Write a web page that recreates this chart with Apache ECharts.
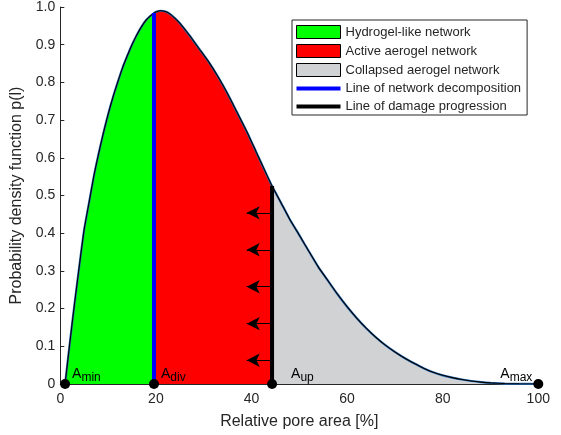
<!DOCTYPE html>
<html><head><meta charset="utf-8">
<script src="https://cdn.jsdelivr.net/npm/echarts@6/dist/echarts.min.js"></script>
<style>html,body{margin:0;padding:0;background:#fff}#c{width:561px;height:435px}</style>
</head><body><div id="c"></div>
<script>
const curveX = [1,2,3,4,5,6,7,8,9,10,11,12,13,14,15,16,17,18,19,19.6,20,21,22,23,24,25,27,29,31,33,35,37,39,41,43,44.3,46,48,50,52,54,56,58,60,62,64,66,68,70,72,74,76,78,80,82,84,86,88,90,93,96,100];
const curveY = [0,0.11,0.215,0.315,0.41,0.48,0.55,0.61,0.665,0.715,0.76,0.8,0.838,0.87,0.9,0.926,0.948,0.966,0.978,0.984,0.987,0.99,0.988,0.981,0.97,0.957,0.925,0.89,0.855,0.815,0.77,0.72,0.67,0.615,0.56,0.525,0.485,0.437,0.395,0.352,0.31,0.274,0.238,0.205,0.175,0.148,0.124,0.103,0.085,0.069,0.055,0.042,0.031,0.023,0.017,0.012,0.008,0.005,0.003,0.0012,0.0003,0];
const markerX = [1, 19.6, 44.3, 100];
const markerSub = ['min', 'div', 'up', 'max'];
const A_DIV = 19.6, A_UP = 44.3;
const divTop = 0.984, upTop = 0.525;
const arrowY = [0.063, 0.16, 0.258, 0.356, 0.454];
const arrowTipX = 39.0;
const legendNames = ['Hydrogel-like network','Active aerogel network','Collapsed aerogel network','Line of network decomposition','Line of damage progression'];

const pts = curveX.map((x,i)=>[x,curveY[i]]);
const seg = (a,b)=>pts.filter(p=>p[0]>=a && p[0]<=b);
const FONT = "'Liberation Sans', Arial, Helvetica, sans-serif";
const TXT = '#262626';

function areaSeries(name, color, a, b){
  return {name, type:'line', data: seg(a,b), symbol:'none', smooth:0.2, lineStyle:{width:0}, areaStyle:{color, opacity:1}, itemStyle:{color}, z:1, silent:true};
}
const labelDist = [2, 2, 14, 1];
const labelPos = ['right','right','right','left'];

const option = {
  animation:false,
  textStyle:{fontFamily:FONT},
  grid:{left:60.3, right:22.7, top:6.8, bottom:50.7, containLabel:false},
  xAxis:{type:'value', min:0, max:100, interval:20,
    name:'Relative pore area [%]', nameLocation:'middle', nameGap:30,
    nameTextStyle:{fontSize:16, color:TXT, fontFamily:FONT},
    axisLine:{show:true, lineStyle:{color:TXT, width:1}},
    axisTick:{show:true, inside:true, length:4, lineStyle:{color:TXT}},
    axisLabel:{fontSize:14, color:TXT, margin:8, fontFamily:FONT},
    splitLine:{show:false}},
  yAxis:{type:'value', min:0, max:1, interval:0.1,
    name:'Probability density function p(l)', nameLocation:'middle', nameGap:32,
    nameTextStyle:{fontSize:16, color:TXT, fontFamily:FONT},
    axisLine:{show:true, lineStyle:{color:TXT, width:1}},
    axisTick:{show:true, inside:true, length:4, lineStyle:{color:TXT}},
    axisLabel:{fontSize:14, color:TXT, margin:5, fontFamily:FONT,
      formatter:v=> v===0 ? '0' : v.toFixed(1)},
    splitLine:{show:false}},
  legend:{
    orient:'vertical', left:292, top:20, itemWidth:44, itemHeight:13, itemGap:5,
    padding:[5,6,2,4], borderColor:TXT, borderWidth:1, backgroundColor:'#fff',
    textStyle:{fontSize:13, color:TXT, fontFamily:FONT},
    selectedMode:false,
    data:[
      {name:legendNames[0], icon:'rect', itemStyle:{color:'#00ff00', borderColor:'#000', borderWidth:1}},
      {name:legendNames[1], icon:'rect', itemStyle:{color:'#ff0000', borderColor:'#000', borderWidth:1}},
      {name:legendNames[2], icon:'rect', itemStyle:{color:'#d1d2d4', borderColor:'#000', borderWidth:1}},
      {name:legendNames[3], icon:'path://M0,0H44V4H0Z', itemStyle:{color:'#0000ff', borderWidth:0}},
      {name:legendNames[4], icon:'path://M0,0H44V4H0Z', itemStyle:{color:'#000000', borderWidth:0}}
    ]
  },
  series:[
    areaSeries(legendNames[0], '#00ff00', curveX[0], A_DIV),
    areaSeries(legendNames[1], '#ff0000', A_DIV, A_UP),
    areaSeries(legendNames[2], '#d1d2d4', A_UP, 100),
    {name:'curveBlue', type:'line', data:pts, symbol:'none', smooth:0.2, lineStyle:{color:'#2a6db5', width:2.2}, z:3, silent:true},
    {name:'curve', type:'line', data:pts, symbol:'none', smooth:0.2, lineStyle:{color:'#000', width:1.1}, z:4, silent:true},
    {name:legendNames[3], type:'line', data:[[A_DIV,0],[A_DIV,divTop]], symbol:'none', lineStyle:{color:'#0000ff', width:4}, itemStyle:{color:'#0000ff'}, z:5, silent:true},
    {name:legendNames[4], type:'line', data:[[A_UP,0],[A_UP,upTop]], symbol:'none', lineStyle:{color:'#000', width:4}, itemStyle:{color:'#000'}, z:5, silent:true,
      markLine:{silent:true, symbol:['none','arrow'], symbolSize:[10,13], label:{show:false},
        lineStyle:{color:'#000', width:1, type:'solid'},
        data: arrowY.map(y=>[{coord:[A_UP,y]},{coord:[arrowTipX,y]}])}},
    {name:'markers', type:'scatter', symbolSize:10, itemStyle:{color:'#000', opacity:1}, z:10, silent:true,
      data: markerX.map((x,i)=>({value:[x,0], label:{show:true, position:labelPos[i], distance:labelDist[i], offset:[0,-10],
        formatter:'{a|A}{s|'+markerSub[i]+'}',
        rich:{a:{fontSize:14, color:'#000', fontFamily:FONT}, s:{fontSize:12, color:'#000', fontFamily:FONT, padding:[8,0,0,0]}}}}))}
  ]
};
const chart = echarts.init(document.getElementById('c'), null, {renderer:'canvas'});
chart.setOption(option);
</script></body></html>
